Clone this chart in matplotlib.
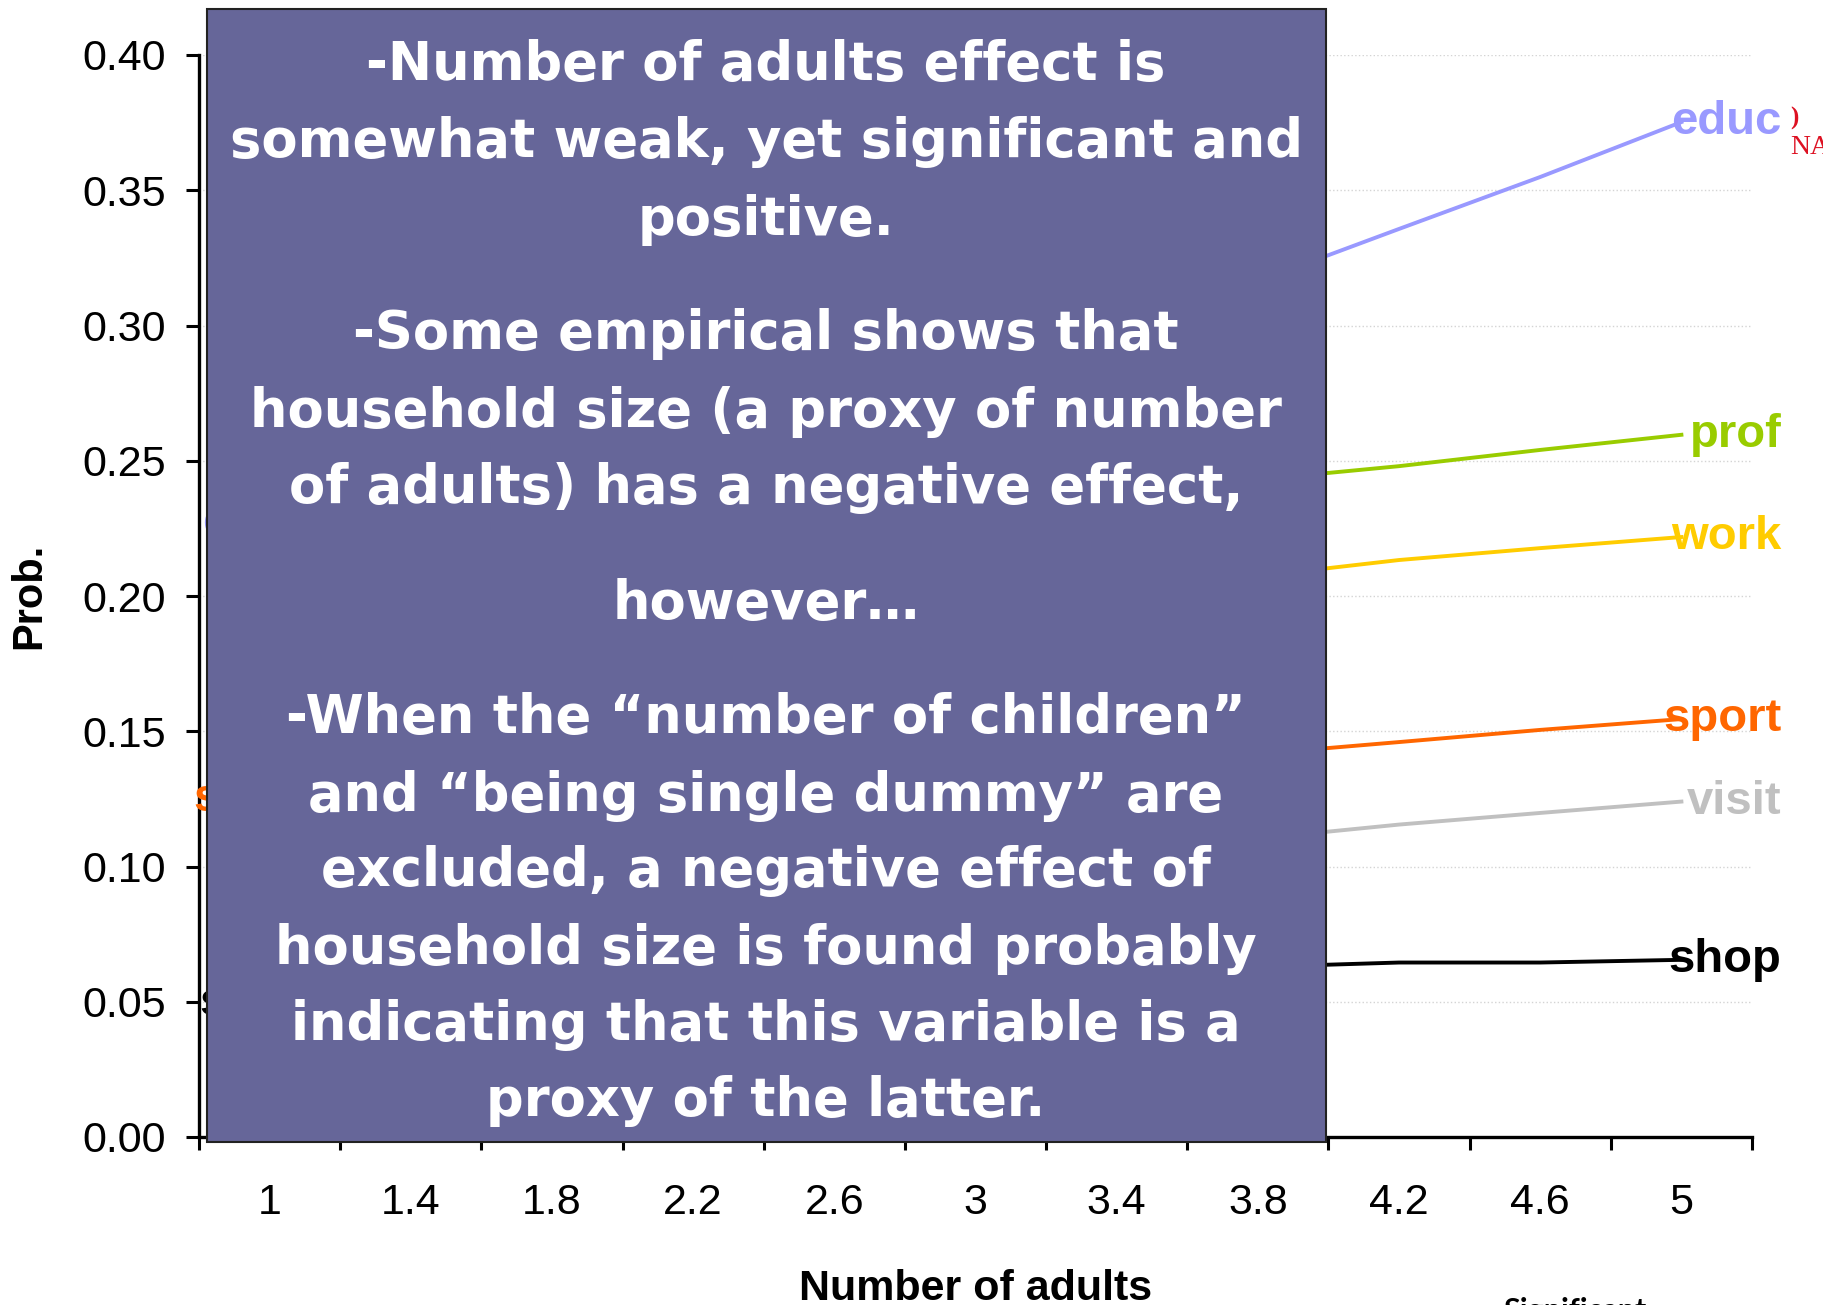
import matplotlib
matplotlib.use('Agg')
import matplotlib.pyplot as plt
from matplotlib.patches import Rectangle

plt.rcParams['font.family'] = ['Liberation Sans', 'DejaVu Sans']

# categories (number of adults)
adults = ['1', '1.4', '1.8', '2.2', '2.6', '3', '3.4', '3.8', '4.2', '4.6', '5']

# predicted probabilities per purpose
educ  = [0.227, 0.2365, 0.247, 0.2585, 0.271, 0.2845, 0.2995, 0.3163, 0.3357, 0.3549, 0.3752]
prof  = [0.212, 0.2165, 0.221, 0.2255, 0.230, 0.2345, 0.2385, 0.243, 0.248, 0.254, 0.2596]
work  = [0.180, 0.184, 0.188, 0.192, 0.196, 0.200, 0.2037, 0.2073, 0.2133, 0.2177, 0.2218]
sport = [0.125, 0.1275, 0.130, 0.1325, 0.135, 0.1375, 0.1396, 0.1416, 0.146, 0.1505, 0.1545]
visit = [0.085, 0.089, 0.093, 0.097, 0.1005, 0.104, 0.107, 0.1103, 0.1155, 0.1198, 0.124]
shop  = [0.0495, 0.052, 0.0545, 0.0567, 0.0587, 0.0603, 0.0617, 0.0629, 0.0645, 0.0645, 0.0655]

purposes = ['educ', 'prof', 'work', 'sport', 'visit', 'shop']
series = [educ, prof, work, sport, visit, shop]
colors = ['#9999FF', '#99CC00', '#FFCC00', '#FF6600', '#C0C0C0', '#000000']
# series whose start label peeks out from behind the box
left_labels = ['educ', 'sport', 'shop']

yticks = [0.0, 0.05, 0.10, 0.15, 0.20, 0.25, 0.30, 0.35, 0.40]

box_lines = ['-Number of adults effect is',
             'somewhat weak, yet significant and',
             'positive.',
             '-Some empirical shows that',
             'household size (a proxy of number',
             'of adults) has a negative effect,',
             'however\u2026',
             '-When the \u201cnumber of children\u201d',
             'and \u201cbeing single dummy\u201d are',
             'excluded, a negative effect of',
             'household size is found probably',
             'indicating that this variable is a',
             'proxy of the latter.']
# vertical centre of each line, in pixels from the top
line_px = [60, 137, 215, 329, 407, 483, 599, 713, 791, 866, 944, 1020, 1096]

W, H = 1823, 1305
fig = plt.figure(figsize=(W / 100, H / 100), dpi=100)
ax = fig.add_axes([199 / W, 1 - 1137 / H, (1752 - 199) / W, (1137 - 55) / H])

x = list(range(len(adults)))
for name, vals, c in zip(purposes, series, colors):
    ax.plot(x, vals, color=c, lw=2.8, zorder=3)
    ax.text(10.71, vals[-1], name, color=c, fontsize=34, fontweight='bold',
            ha='right', va='center', clip_on=False, zorder=4)
    if name in left_labels:
        ax.text(0.30, vals[0], name, color=c, fontsize=34, fontweight='bold',
                ha='right', va='center', clip_on=False, zorder=4)

ax.set_xlim(-0.5, len(adults) - 0.5)
ax.set_ylim(0, 0.40)
ax.set_yticks(yticks)
ax.set_yticklabels(['%.2f' % v for v in yticks], fontsize=31)
ax.yaxis.grid(True, color='#d4d4d4', ls=':', lw=1.0)
ax.set_axisbelow(True)

ax.set_xticks([i - 0.5 for i in range(len(adults) + 1)])
ax.set_xticklabels([])
ax.set_xticks(x, minor=True)
ax.set_xticklabels(adults, minor=True, fontsize=31)
ax.tick_params(axis='x', which='minor', length=0, pad=33)
ax.tick_params(axis='both', which='major', direction='out', length=9.5, width=2.2)
ax.tick_params(axis='y', pad=14)

for s in ['top', 'right']:
    ax.spines[s].set_visible(False)
for s in ['left', 'bottom']:
    ax.spines[s].set_linewidth(2.4)

ax.set_xlabel('Number of adults', fontsize=31, fontweight='bold', labelpad=33)
ax.set_ylabel('Prob.', fontsize=30, fontweight='bold', labelpad=24)

# overlaid comment box
box = Rectangle((207 / W, 1 - 1142 / H), (1326 - 207) / W, (1142 - 9) / H,
                transform=fig.transFigure, facecolor='#666699',
                edgecolor='#222222', lw=1.5, zorder=10)
fig.add_artist(box)
for txt, py in zip(box_lines, line_px):
    fig.text(766 / W, 1 - (py + 20) / H, txt, color='white', fontsize=38,
             family='DejaVu Sans', fontweight='bold', ha='center',
             va='baseline', zorder=11)

fig.text(1575 / W, 1 - 1297 / H, 'Significant', fontsize=22, fontweight='bold',
         family='Lato', ha='center', va='top')
fig.text(1790 / W, 1 - 118 / H, ')', color='#dd1122', fontsize=18,
         family='Liberation Serif', fontweight='bold', ha='left', va='center')
fig.text(1790 / W, 1 - 148 / H, 'NA', color='#dd1122', fontsize=20,
         family='Liberation Serif', ha='left', va='center')

fig.savefig('out.png', dpi=100)
